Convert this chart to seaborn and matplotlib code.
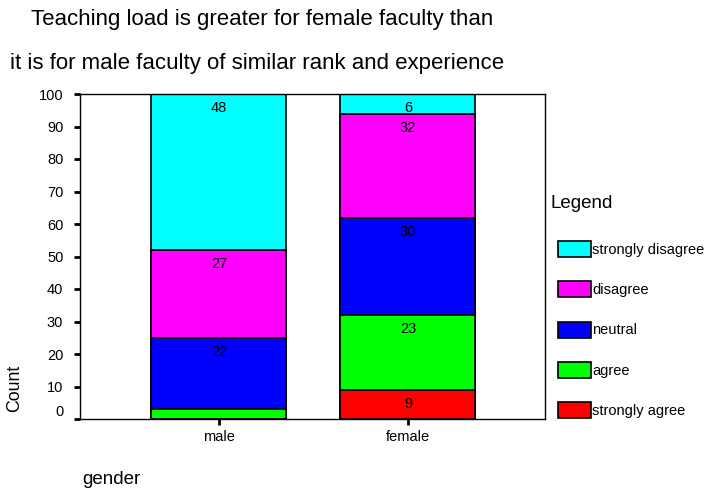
import matplotlib
matplotlib.use("Agg")
import matplotlib.pyplot as plt
import matplotlib.transforms as mtransforms
from matplotlib.patches import Patch
import numpy as np
import pandas as pd
import seaborn as sns

genders = ["male", "female"]
responses = ["strongly agree", "agree", "neutral", "disagree", "strongly disagree"]
male_counts = [0, 3, 22, 27, 48]
female_counts = [9, 23, 30, 32, 6]
colors = ["#ff0000", "#00ff00", "#0000ff", "#ff00ff", "#00ffff"]
yticks = [0, 10, 20, 30, 40, 50, 60, 70, 80, 90, 100]

sns.set_theme(style="white")
plt.rcParams["font.family"] = ["Liberation Sans", "DejaVu Sans"]
plt.rcParams["text.color"] = "black"
plt.rcParams["axes.labelcolor"] = "black"

fig = plt.figure(figsize=(7.07, 4.91), dpi=100)
ax = fig.add_axes([80 / 707, 72 / 491, 465 / 707, 325 / 491])

counts = np.array([male_counts, female_counts])
cum = counts.cumsum(axis=1)

# draw from the top layer down so each lower layer overlays the one above
for i in reversed(range(len(responses))):
    df = pd.DataFrame({"gender": genders, "total": cum[:, i]})
    sns.barplot(data=df, x="gender", y="total", order=genders, color=colors[i],
                saturation=1, width=0.714, edgecolor="black", linewidth=1.2,
                ax=ax, errorbar=None)

# value labels near the top of each segment
for g in range(len(genders)):
    for i in range(len(responses)):
        v = counts[g, i]
        if v >= 5:
            ax.annotate(str(v), xy=(g, cum[g, i]), xytext=(0, -14),
                        textcoords="offset pixels", ha="center", va="center",
                        fontsize=10.5, color="black")

ax.set_xlim(-0.735, 1.725)
ax.set_ylim(0, 100)
ax.set_yticks(yticks)
ax.set_yticklabels([str(t) for t in yticks])
ax.set_xlabel("")
ax.set_ylabel("")
for s in ax.spines.values():
    s.set_visible(True)
    s.set_color("black")
    s.set_linewidth(1.0)
ax.tick_params(axis="both", which="both", direction="out", length=4, width=2,
               colors="black", labelsize=10.5, left=True, bottom=True, pad=4)
ax.tick_params(axis="y", pad=8)
# the "0" label sits a bit above its tick in the reference
lab0 = ax.get_yticklabels()[0]
lab0.set_transform(lab0.get_transform() + mtransforms.ScaledTranslation(0, 8 / 100, fig.dpi_scale_trans))

fig.text(262 / 707, 1 - 20 / 491, "Teaching load is greater for female faculty than",
         ha="center", va="center", fontsize=16)
fig.text(257 / 707, 1 - 63 / 491, "it is for male faculty of similar rank and experience",
         ha="center", va="center", fontsize=16)
fig.text(15 / 707, 1 - 412 / 491, "Count", rotation=90, ha="center", va="bottom", fontsize=12.8)
fig.text(82 / 707, 1 - 480 / 491, "gender", ha="left", va="center", fontsize=13.5)

fig.text(551 / 707, 1 - 204 / 491, "Legend", ha="left", va="center", fontsize=13.5)
handles = [Patch(facecolor=colors[i], edgecolor="black", linewidth=1.2)
           for i in reversed(range(len(responses)))]
labels = list(reversed(responses))
fig.legend(handles, labels, loc="upper left", bbox_to_anchor=(552 / 707, 1 - 235 / 491),
           frameon=False, fontsize=10.5, handlelength=2.3, handleheight=1.3,
           labelspacing=1.68, handletextpad=0.05, borderaxespad=0)

fig.savefig("out.png", dpi=100)
